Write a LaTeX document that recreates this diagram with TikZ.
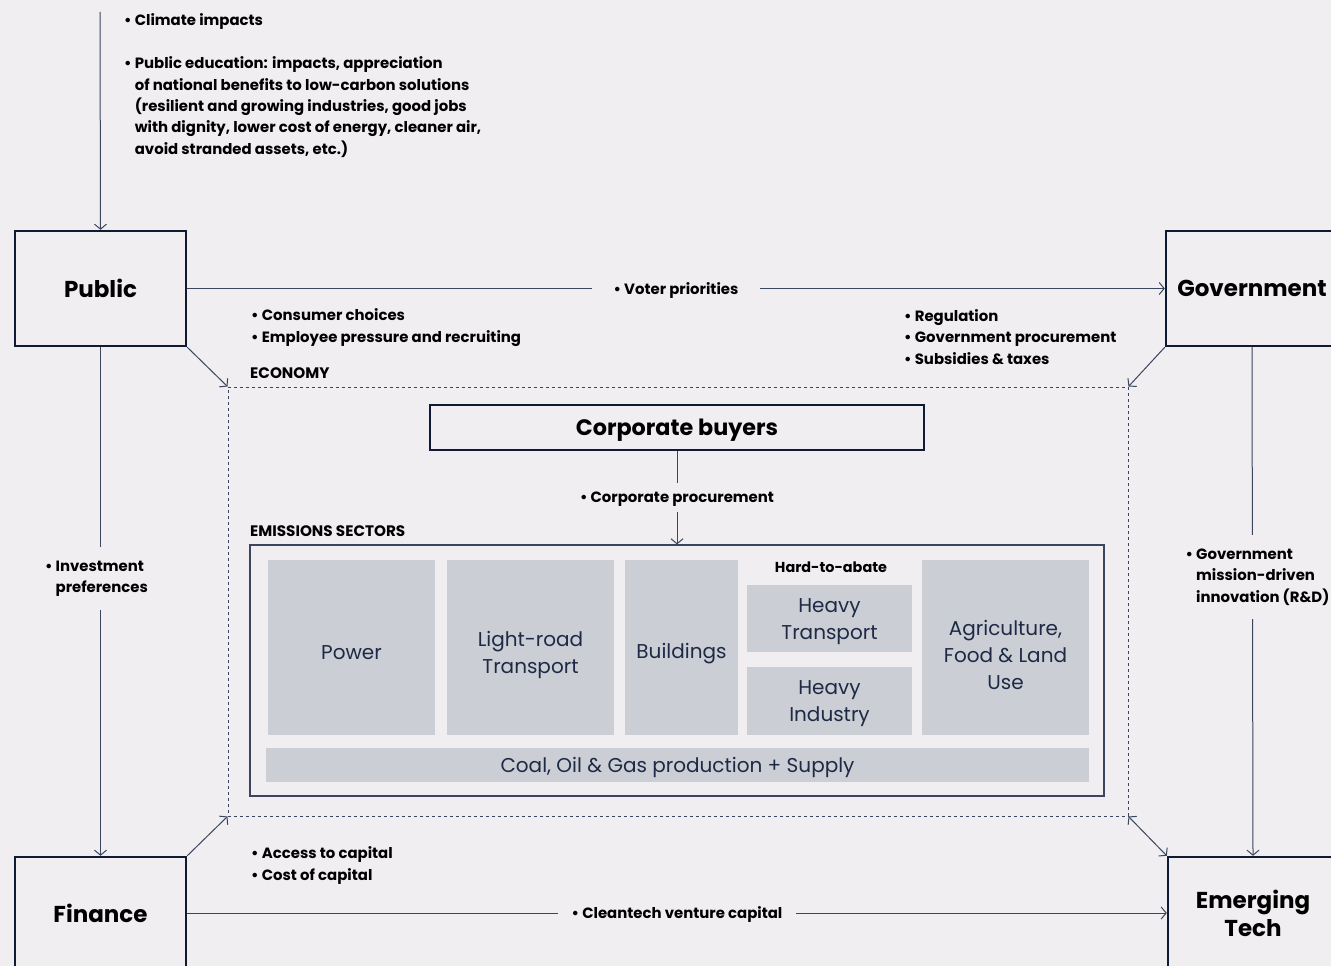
\documentclass[tikz,border=0pt]{standalone}
\usepackage{fontspec}
\setmainfont{Poppins}
\usepackage{tikz}
\usetikzlibrary{arrows.meta}
\definecolor{PageBg}{RGB}{240,238,240}
\definecolor{BoxNavy}{RGB}{14,27,51}
\definecolor{LineSlate}{RGB}{58,70,94}
\definecolor{SectorGray}{RGB}{203,206,212}
\definecolor{SectorText}{RGB}{30,42,69}
\tikzset{>={Straight Barb[length=5pt,width=12pt]}}
\tikzset{
  actorbox/.style={draw=BoxNavy, line width=2.4pt, text=black,
    font=\bfseries\fontsize{23}{28}\selectfont, align=center, inner sep=0pt},
  sectorbox/.style={fill=SectorGray, inner sep=0pt},
  sectortext/.style={text=SectorText, inner sep=0pt,
    font=\fontsize{20}{27}\selectfont, align=center},
  bulletlist/.style={text=black, font=\bfseries\fontsize{14.9}{21.3}\selectfont,
    align=left, inner sep=0pt},
  headlabel/.style={text=black, font=\bfseries\fontsize{15.2}{17}\selectfont, inner sep=0pt},
  conn/.style={draw=LineSlate, line width=1pt},
  gaplabel/.style={bulletlist, fill=PageBg}
}
\newcommand{\ind}{\phantom{\textbullet\ }}

\begin{document}
\begin{tikzpicture}[x=1pt, y=-1pt]
  \fill[PageBg] (0, 0) rectangle (1331, 966);
  \useasboundingbox (0, 0) rectangle (1331, 966);

  % four actors
  \node[actorbox, minimum width=171, minimum height=115] (public) at (100.5, 288.5) {Public};
  \node[actorbox, minimum width=172, minimum height=115] (govt) at (1252, 288.5) {Government};
  \node[actorbox, minimum width=171, minimum height=112] (finance) at (100.5, 913) {Finance};
  \node[actorbox, minimum width=170, minimum height=112] (tech) at (1253, 913) {Emerging\\Tech};

  % economy and sectors
  \node[draw=LineSlate, line width=1pt, dash pattern=on 3pt off 3pt,
    minimum width=900, minimum height=429, inner sep=0pt] (econ) at (678, 601.5) {};
  \node[headlabel, anchor=base west] at (250, 378) {ECONOMY};
  \node[draw=BoxNavy, line width=2pt, minimum width=494, minimum height=45, inner sep=0pt,
    text depth=0pt, font=\bfseries\fontsize{22.3}{24}\selectfont] (corp) at (677, 427.5) {Corporate buyers};
  \node[headlabel, anchor=base west] at (250, 536) {EMISSIONS SECTORS};
  \node[draw=LineSlate, line width=1.2pt, minimum width=854, minimum height=251,
    inner sep=0pt] (emis) at (677, 670.5) {};

  \node[sectorbox, minimum width=167, minimum height=175,
    label={[sectortext, yshift=-5pt]center:Power}] (power) at (351.5, 647.5) {};
  \node[sectorbox, minimum width=167, minimum height=175,
    label={[sectortext, yshift=-7pt]center:Light-road\\Transport}] (light) at (530.5, 647.5) {};
  \node[sectorbox, minimum width=113, minimum height=175,
    label={[sectortext, yshift=-6pt]center:Buildings}] (build) at (681.5, 647.5) {};
  \node[headlabel, font=\bfseries\fontsize{14.4}{16}\selectfont] (hard) at (831, 567) {Hard-to-abate};
  \node[sectorbox, minimum width=165, minimum height=67,
    label={[sectortext, yshift=-3pt]center:Heavy\\Transport}] (htrans) at (829.5, 618.5) {};
  \node[sectorbox, minimum width=165, minimum height=68,
    label={[sectortext, yshift=-3pt]center:Heavy\\Industry}] (hind) at (829.5, 701) {};
  \node[sectorbox, minimum width=167, minimum height=175,
    label={[sectortext, yshift=-7pt]center:Agriculture,\\Food \& Land\\Use}] (agri) at (1005.5, 647.5) {};
  \node[sectorbox, minimum width=823, minimum height=34,
    label={[sectortext, yshift=-2pt]center:Coal, Oil \& Gas production + Supply}] (coal) at (677.5, 765) {};

  % bullet texts
  \coordinate (topin) at (100, 12);
  \node[bulletlist, anchor=base west] at (124, 26) {\textbullet\ Climate impacts};
  \node[bulletlist, anchor=base west] at (124, 154) {\textbullet\ Public education: impacts, appreciation\\
    \ind of national benefits to low-carbon solutions\\
    \ind (resilient and growing industries, good jobs\\
    \ind with dignity, lower cost of energy, cleaner air,\\
    \ind avoid stranded assets, etc.)};
  \node[bulletlist, anchor=base west] at (251, 342) {\textbullet\ Consumer choices\\\textbullet\ Employee pressure and recruiting};
  \node[bulletlist, anchor=base west] at (904, 364) {\textbullet\ Regulation\\\textbullet\ Government procurement\\\textbullet\ Subsidies \& taxes};
  \node[bulletlist, anchor=base west] at (251, 880) {\textbullet\ Access to capital\\\textbullet\ Cost of capital};

  % connectors
  \draw[conn, ->] (topin) -- (public.north);
  \draw[conn, ->] (public.east) -- node[gaplabel, text depth=0pt, inner xsep=22pt, inner ysep=6pt] {\textbullet\ Voter priorities} (govt.west);
  \draw[conn, ->] (finance.east) -- node[gaplabel, text depth=0pt, inner xsep=14pt, inner ysep=6pt] {\textbullet\ Cleantech venture capital} (tech.west);
  \draw[conn, ->] (public.south) -- node[gaplabel, pos=0.455, inner ysep=14pt, xshift=-4pt] {\textbullet\ Investment\\\ind preferences} (finance.north);
  \draw[conn, ->] (govt.south) -- node[gaplabel, pos=0.452, inner ysep=14pt, xshift=5pt] {\textbullet\ Government\\\ind mission-driven\\\ind innovation (R\&D)} (tech.north);
  \draw[conn, ->] (corp.south) -- node[gaplabel, text depth=0pt, inner ysep=9pt] {\textbullet\ Corporate procurement} (emis.north);
  \draw[conn, ->] (public.south east) -- (econ.north west);
  \draw[conn, ->] (govt.south west) -- (econ.north east);
  \draw[conn, ->] (finance.north east) -- (econ.south west);
  \draw[conn, <->] (tech.north west) -- (econ.south east);
\end{tikzpicture}
\end{document}
